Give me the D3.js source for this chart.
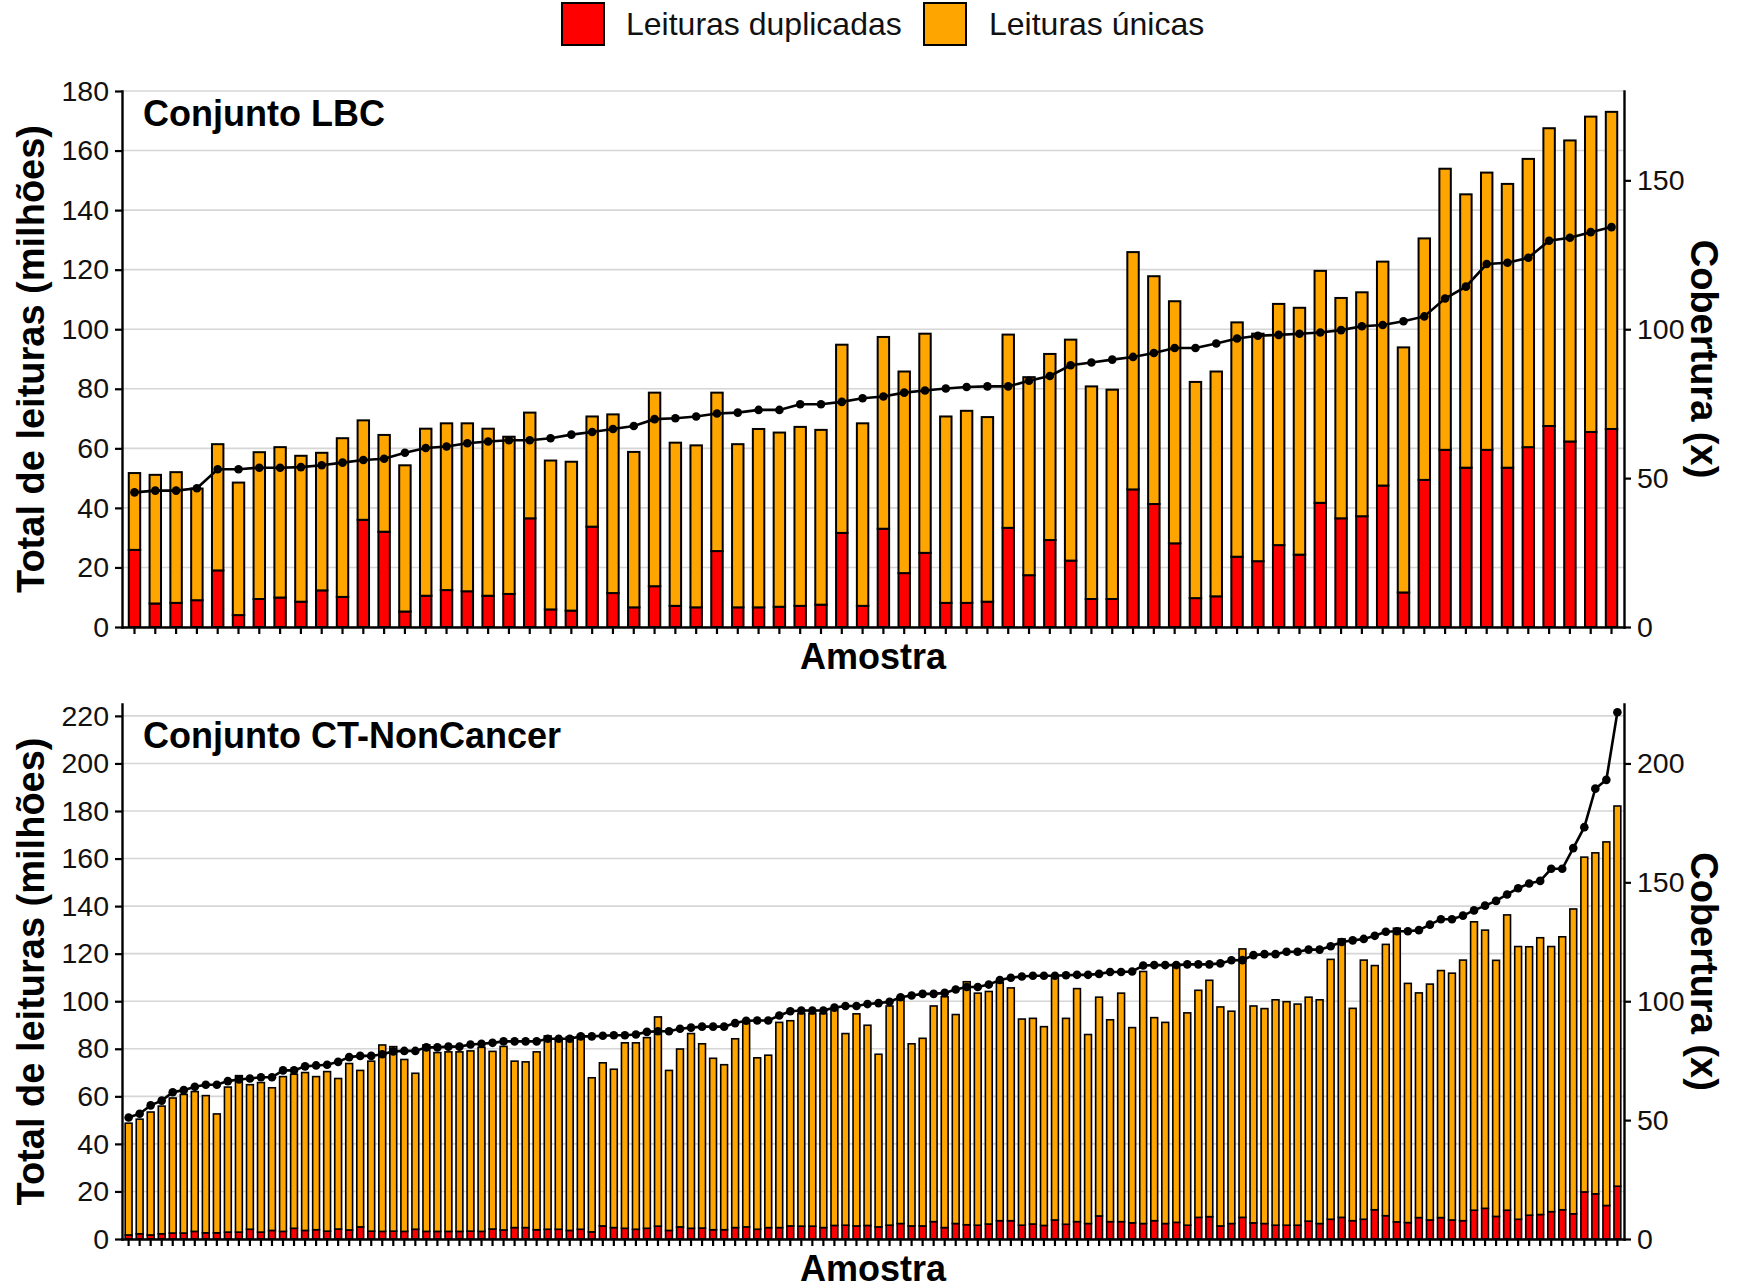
<!DOCTYPE html>
<html>
<head>
<meta charset="utf-8">
<script src="https://cdn.jsdelivr.net/npm/d3@7"></script>
<style>
  body { margin: 0; background: #fff; }
  svg { display: block; font-family: "Liberation Sans", Arial, sans-serif; }
</style>
</head>
<body>
<svg id="chart" width="1746" height="1288"></svg>
<script>
// ---- data (milhoes de leituras / cobertura x) ----
var lbcDup = [25.9, 7.9, 8.1, 9.0, 19.0, 4.0, 9.4, 9.9, 8.5, 12.3, 10.1, 36.0, 32.0, 5.2, 10.5, 12.4, 12.0, 10.5, 11.1, 36.5,
  5.9, 5.5, 33.7, 11.4, 6.6, 13.7, 7.1, 6.6, 25.5, 6.6, 6.6, 6.8, 7.1, 7.5, 31.6, 7.1, 33.0, 18.1, 24.9, 8.1,
  8.1, 8.5, 33.3, 17.4, 29.2, 22.3, 9.4, 9.4, 46.2, 41.3, 28.1, 9.7, 10.3, 23.6, 22.1, 27.5, 24.3, 41.7, 36.5, 37.2,
  47.5, 11.6, 49.4, 59.5, 53.5, 59.5, 53.5, 60.4, 67.5, 62.3, 65.5, 66.5]
var lbcUnique = [25.8, 43.2, 43.9, 37.5, 42.4, 44.5, 49.3, 50.5, 49.0, 46.2, 53.3, 33.4, 32.5, 49.1, 56.1, 56.0, 56.4, 56.1, 52.8, 35.5,
  50.0, 50.0, 37.0, 60.0, 52.2, 65.0, 54.8, 54.4, 53.2, 54.8, 59.9, 58.5, 60.1, 58.7, 63.2, 61.3, 64.4, 67.7, 73.6, 62.6,
  64.5, 62.0, 64.9, 66.5, 62.5, 74.2, 71.4, 70.3, 79.7, 76.5, 81.3, 72.6, 75.5, 78.7, 76.4, 81.0, 82.9, 77.9, 74.0, 75.2,
  75.2, 82.3, 81.1, 94.4, 91.8, 93.1, 95.3, 96.8, 100.0, 101.1, 105.9, 106.5]
var lbcCoverage = [45.2, 45.8, 45.8, 46.6, 53.0, 53.0, 53.5, 53.5, 53.7, 54.3, 55.2, 56.1, 56.5, 58.5, 60.1, 60.6, 61.7, 62.3, 62.7, 62.7,
  63.4, 64.6, 65.5, 66.5, 67.5, 69.8, 70.1, 70.7, 71.7, 72.0, 72.9, 72.9, 74.8, 74.8, 75.6, 76.8, 77.4, 78.7, 79.4, 80.1,
  80.6, 80.8, 80.8, 82.7, 84.3, 87.9, 88.8, 89.8, 90.7, 92.0, 93.7, 93.7, 95.2, 96.9, 97.8, 98.1, 98.5, 98.9, 99.7, 101.0,
  101.4, 102.7, 104.3, 110.3, 114.3, 121.9, 122.3, 124.0, 129.7, 130.7, 132.6, 134.3]

var ctDup = [1.7, 2.2, 1.7, 2.2, 2.5, 2.5, 3.2, 2.6, 2.6, 2.9, 2.9, 4.1, 2.9, 3.6, 3.2, 4.5, 3.6, 3.9, 3.3, 4.2,
  3.8, 5.1, 3.3, 3.2, 3.3, 3.2, 4.1, 3.2, 3.2, 3.2, 3.2, 3.3, 3.2, 4.2, 3.8, 4.8, 4.8, 3.9, 4.1, 4.1,
  3.6, 4.1, 3.0, 5.5, 4.8, 4.5, 4.1, 4.5, 5.4, 3.6, 5.1, 4.5, 4.6, 3.9, 3.9, 4.8, 5.1, 4.1, 4.8, 4.8,
  5.5, 5.4, 5.4, 4.8, 5.7, 5.8, 5.5, 5.7, 5.1, 5.8, 6.5, 5.5, 5.5, 7.3, 4.8, 6.5, 6.0, 5.8, 6.3, 7.7,
  7.7, 5.8, 6.3, 5.7, 8.0, 6.2, 7.3, 6.5, 9.7, 7.3, 7.3, 6.8, 6.5, 7.7, 6.5, 7.0, 5.8, 9.1, 9.4, 5.5,
  6.5, 9.1, 6.8, 6.5, 5.8, 5.8, 5.8, 7.5, 6.5, 8.3, 9.1, 7.7, 8.3, 12.3, 9.8, 7.2, 6.9, 9.0, 8.0, 9.0,
  8.0, 7.7, 12.1, 12.9, 9.5, 12.1, 8.3, 10.0, 10.3, 11.5, 12.3, 10.6, 19.8, 19.0, 14.1, 22.2]
var ctUnique = [47.0, 48.2, 51.7, 53.7, 56.8, 58.3, 58.8, 57.7, 50.0, 61.0, 65.8, 60.8, 62.9, 60.0, 65.1, 64.8, 66.4, 64.4, 67.1, 63.3,
  70.0, 65.8, 71.5, 78.4, 77.6, 72.3, 65.6, 78.4, 75.2, 75.5, 75.5, 75.8, 77.4, 74.7, 77.2, 70.0, 69.7, 74.8, 81.3, 80.1,
  81.4, 81.6, 64.8, 68.6, 66.6, 78.0, 78.4, 80.2, 88.0, 67.3, 74.8, 81.9, 77.5, 72.1, 69.4, 79.4, 86.0, 72.1, 72.5, 86.3,
  86.3, 89.4, 89.4, 90.0, 90.9, 80.6, 89.2, 84.2, 72.6, 92.2, 95.4, 76.6, 78.9, 90.7, 97.1, 87.9, 102.2, 97.6, 97.8, 100.1,
  97.9, 86.7, 86.5, 83.6, 102.4, 86.6, 98.0, 79.5, 92.0, 84.9, 96.1, 82.1, 106.0, 85.4, 84.6, 108.5, 89.3, 95.5, 99.4, 92.1,
  89.3, 112.9, 91.2, 90.4, 94.8, 94.0, 93.0, 94.2, 94.1, 109.3, 117.1, 89.3, 109.0, 102.7, 114.1, 123.5, 100.6, 94.5, 99.2, 103.9,
  103.8, 109.6, 121.3, 117.0, 107.7, 124.2, 114.7, 112.9, 116.4, 111.5, 114.8, 128.2, 140.8, 143.4, 152.9, 159.9]
var ctCoverage = [51.1, 52.7, 56.2, 58.2, 61.7, 62.6, 64.0, 64.9, 64.9, 66.4, 67.1, 67.5, 68.0, 68.0, 70.9, 70.9, 72.6, 73.0, 73.3, 74.5,
  76.5, 77.0, 77.0, 77.7, 78.9, 79.1, 79.1, 80.6, 80.6, 80.9, 80.9, 81.8, 82.1, 82.5, 83.1, 83.1, 83.1, 83.1, 84.2, 84.2,
  84.2, 85.2, 85.2, 85.5, 85.7, 85.7, 86.0, 87.1, 87.4, 87.4, 88.4, 88.9, 89.3, 89.3, 89.3, 90.8, 91.8, 91.9, 91.9, 94.0,
  95.8, 96.1, 96.1, 96.1, 97.3, 98.0, 98.0, 98.8, 99.2, 99.8, 101.7, 102.4, 103.1, 103.1, 103.5, 104.9, 106.0, 106.0, 107.0, 108.9,
  109.9, 110.4, 110.7, 110.7, 110.7, 110.9, 111.1, 111.1, 111.5, 112.3, 112.3, 112.5, 115.0, 115.2, 115.2, 115.2, 115.5, 115.5, 115.5, 115.9,
  117.2, 117.3, 119.4, 119.8, 119.8, 120.8, 120.8, 121.7, 121.7, 123.1, 124.9, 125.6, 126.2, 127.5, 129.2, 129.4, 129.4, 129.9, 132.2, 134.5,
  134.5, 136.0, 138.2, 140.2, 142.2, 144.9, 147.5, 149.5, 150.6, 155.7, 155.7, 164.4, 173.2, 189.4, 193.1, 221.5]

var lbcLeftTicks = [0, 20, 40, 60, 80, 100, 120, 140, 160, 180]
var lbcRightTicks = [0, 50, 100, 150]
var ctLeftTicks = [0, 20, 40, 60, 80, 100, 120, 140, 160, 180, 200, 220]
var ctRightTicks = [0, 50, 100, 150, 200]

var legendLabels = ['Leituras duplicadas', 'Leituras únicas']
var fillDup = '#ff0000', fillUniq = '#ffa500'

// ---- layout ----
var margin = {left: 122, right: 1624}
var svg = d3.select('#chart')

var panels = [
  {label: 'Conjunto LBC', dup: lbcDup, uniq: lbcUnique, cov: lbcCoverage,
   top: 91, bottom: 627, yMax: 180, leftTicks: lbcLeftTicks, rightTicks: lbcRightTicks,
   pad: 0.45, barStroke: 2, r: 4.3, labelY: 126},
  {label: 'Conjunto CT-NonCancer', dup: ctDup, uniq: ctUnique, cov: ctCoverage,
   top: 704, bottom: 1239, yMax: 225, leftTicks: ctLeftTicks, rightTicks: ctRightTicks,
   pad: 0.38, barStroke: 1.6, r: 4.3, labelY: 748}
]

// legend
var legend = svg.append('g').attr('class', 'legend')
var legendX = [[562, 626], [924, 989]]
legendLabels.forEach(function(lab, i){
  legend.append('rect')
    .attr('x', legendX[i][0]).attr('y', 3)
    .attr('width', 42).attr('height', 42)
    .attr('fill', i == 0 ? fillDup : fillUniq)
    .attr('stroke', '#000').attr('stroke-width', 2)
  legend.append('text')
    .attr('x', legendX[i][1]).attr('y', 35)
    .attr('font-size', 32).attr('fill', '#111')
    .text(lab)
})

function drawPanel(p){
  var rows = p.dup.map(function(d, i){ return {id: i, dup: d, uniq: p.uniq[i], cov: p.cov[i]} })

  var x = d3.scaleBand()
    .domain(rows.map(function(d){ return d.id }))
    .range([margin.left, margin.right])
    .paddingInner(p.pad)
    .paddingOuter((0.2 + p.pad) / 2)   // ggplot-ish 0.6 band expansion

  var y = d3.scaleLinear().domain([0, p.yMax]).range([p.bottom, p.top])
  var y2 = d3.scaleLinear().domain([0, p.yMax]).range([p.bottom, p.top])  // cobertura

  var g = svg.append('g')

  // grid
  g.append('g').selectAll('line').data(p.leftTicks).enter().append('line')
    .attr('x1', margin.left).attr('x2', margin.right)
    .attr('y1', function(d){ return y(d) }).attr('y2', function(d){ return y(d) })
    .attr('stroke', '#d6d6d6').attr('stroke-width', 1.6)

  // stacked bars
  var stacked = d3.stack().keys(['dup', 'uniq'])(rows)
  g.selectAll('g.layer').data(stacked).enter().append('g')
    .attr('class', 'layer')
    .attr('fill', function(d, i){ return i == 0 ? fillDup : fillUniq })
    .selectAll('rect').data(function(d){ return d }).enter().append('rect')
      .attr('x', function(d){ return x(d.data.id) })
      .attr('width', x.bandwidth())
      .attr('y', function(d){ return y(d[1]) })
      .attr('height', function(d){ return y(d[0]) - y(d[1]) })
      .attr('stroke', '#000').attr('stroke-width', p.barStroke)

  // coverage line + points
  var cx = function(d){ return x(d.id) + x.bandwidth() / 2 }
  var line = d3.line().x(cx).y(function(d){ return y2(d.cov) })
  g.append('path').datum(rows)
    .attr('d', line).attr('fill', 'none')
    .attr('stroke', '#000').attr('stroke-width', 2.6)
  g.append('g').selectAll('circle').data(rows).enter().append('circle')
    .attr('cx', cx).attr('cy', function(d){ return y2(d.cov) })
    .attr('r', p.r).attr('fill', '#000')

  // axes
  var yAx = g.append('g').attr('transform', 'translate(' + margin.left + ',0)')
    .call(d3.axisLeft(y).tickValues(p.leftTicks).tickSize(7).tickSizeOuter(0).tickPadding(6))
  var y2Ax = g.append('g').attr('transform', 'translate(' + margin.right + ',0)')
    .call(d3.axisRight(y2).tickValues(p.rightTicks).tickSize(7).tickSizeOuter(0).tickPadding(6))
  var xAx = g.append('g').attr('transform', 'translate(0,' + p.bottom + ')')
    .call(d3.axisBottom(x).tickFormat('').tickSize(7).tickSizeOuter(0))

  ;[yAx, y2Ax, xAx].forEach(function(a){
    a.selectAll('.domain').attr('stroke', '#000').attr('stroke-width', 2.4).attr('stroke-linecap', 'square')
    a.selectAll('.tick line').attr('stroke', '#000').attr('stroke-width', 2.2)
    a.selectAll('.tick text').attr('font-size', 28.5).attr('fill', '#111')
      .attr('font-family', '"Liberation Sans", Arial, sans-serif')
  })

  // titles
  var mid = (p.top + p.bottom) / 2
  g.append('text').attr('x', 143).attr('y', p.labelY)
    .attr('font-size', 36).attr('font-weight', 'bold').text(p.label)
  g.append('text').attr('x', (margin.left + margin.right) / 2).attr('y', p.bottom + 42)
    .attr('text-anchor', 'middle').attr('font-size', 36).attr('font-weight', 'bold').text('Amostra')
  g.append('text').attr('transform', 'translate(44,' + mid + ') rotate(-90)')
    .attr('text-anchor', 'middle').attr('font-size', 38).attr('font-weight', 'bold')
    .text('Total de leituras (milhões)')
  g.append('text').attr('transform', 'translate(1691,' + mid + ') rotate(90)')
    .attr('text-anchor', 'middle').attr('font-size', 38).attr('font-weight', 'bold')
    .text('Cobertura (x)')
}

panels.forEach(drawPanel)
</script>
</body>
</html>
